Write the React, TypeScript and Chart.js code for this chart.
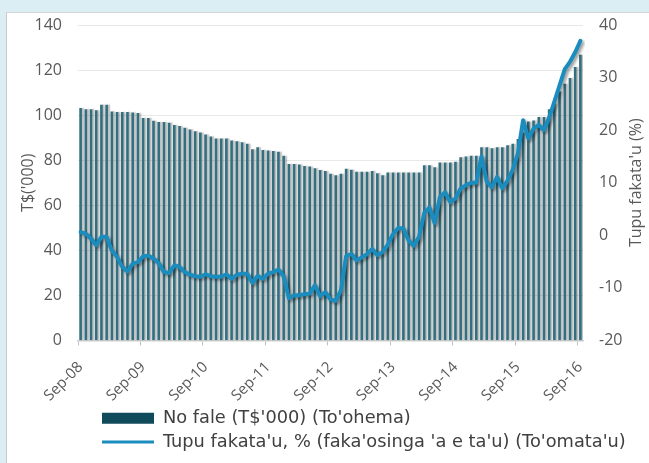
import { useEffect, useRef } from 'react';
import { Chart, registerables } from 'chart.js';

Chart.register(...registerables);

const monthNames = ['Sep', 'Oct', 'Nov', 'Dec', 'Jan', 'Feb', 'Mar', 'Apr', 'May', 'Jun', 'Jul', 'Aug'];
const xTickLabels = ['Sep-08', 'Sep-09', 'Sep-10', 'Sep-11', 'Sep-12', 'Sep-13', 'Sep-14', 'Sep-15', 'Sep-16'];

const categories: string[] = [];
for (let i = 0; i < 97; i++) {
  const yr = 8 + Math.floor((i + 8) / 12);
  categories.push(monthNames[i % 12] + '-' + String(yr).padStart(2, '0'));
}

// No fale (T$'000) – left axis
const loansValues = [
  103, 102.5, 102.5, 102, 104.5, 104.5, 101.5, 101.2, 101.2, 101.2, 101, 100.8,
  98.6, 98.6, 97.3, 96.8, 96.8, 96.5, 95.5, 95, 94.2, 93.5, 92.7, 92.1,
  91.3, 90.4, 89.5, 89.5, 89.5, 88.6, 88.3, 87.8, 87.1, 84.7, 85.6, 84.4,
  84.1, 83.9, 83.6, 81.8, 78.2, 78.2, 77.9, 77.3, 77.0, 76.3, 75.5, 75.0,
  73.8, 73.2, 73.8, 76, 75.6, 74.7, 74.7, 74.7, 75.1, 74.1, 73.2, 74.4,
  74.4, 74.4, 74.4, 74.4, 74.4, 74.4, 77.6, 77.6, 76.7, 78.8, 78.8, 78.8,
  79.1, 81.2, 81.5, 81.8, 81.8, 85.6, 85.6, 85.2, 85.6, 85.6, 86.5, 87.1,
  89.2, 92.1, 97, 97.5, 99, 99, 102.5, 104.9, 110.3, 113.8, 116.3, 121.2,
  126.7,
];

// Tupu fakata'u, % – right axis
const growthValues = [
  0.6, 0.3, -0.6, -1.9, -0.3, -0.3, -2.9, -4.1, -6.0, -6.9, -5.4, -5.1,
  -4.0, -3.9, -4.4, -5.3, -7.0, -7.2, -5.7, -6.0, -7.0, -7.5, -7.8, -7.9,
  -7.4, -7.8, -7.9, -7.9, -7.4, -8.3, -7.5, -7.3, -7.3, -9.1, -7.7, -8.3,
  -7.3, -7.0, -6.5, -7.8, -12.0, -11.4, -11.4, -11.2, -11.1, -9.5, -11.6, -10.8,
  -12.2, -12.5, -10.5, -4.0, -3.5, -4.8, -4.2, -3.6, -2.6, -3.8, -3.2, -1.8,
  0.2, 1.4, 1.3, -1.0, -2.0, -0.3, 4.2, 5.3, 2.3, 7.2, 8.2, 6.3,
  7.0, 8.9, 9.5, 10.0, 10.0, 15.0, 10.2, 9.1, 11.1, 8.9, 10.4, 12.5,
  15.6, 21.9, 18.4, 20.3, 21.0, 20.0, 22.4, 25.4, 28.5, 31.6, 33.0, 34.8,
  37.0,
];

const barLabel = "No fale (T$'000) (To'ohema)";
const lineLabel = "Tupu fakata'u, % (faka'osinga 'a e ta'u) (To'omata'u)";
const leftTitle = "T$('000)";
const rightTitle = "Tupu fakata'u (%)";

const AXIS_FONT = "'Open Sans', sans-serif";
const TEXT = '#595959';

const shadowPlugin = {
  id: 'shadowPlugin',
  beforeDatasetDraw(chart: any, args: any) {
    const ctx = chart.ctx;
    ctx.save();
    if (args.index === 0) {
      ctx.shadowColor = 'rgba(0,0,0,0.28)';
      ctx.shadowBlur = 1.5;
      ctx.shadowOffsetX = 2;
      ctx.shadowOffsetY = 0;
    } else {
      ctx.shadowColor = 'rgba(0,0,0,0.4)';
      ctx.shadowBlur = 3;
      ctx.shadowOffsetX = 2;
      ctx.shadowOffsetY = 2;
    }
  },
  afterDatasetDraw(chart: any) {
    chart.ctx.restore();
  },
};

const legendShift = {
  id: 'legendShift',
  afterLayout(chart: any) {
    const lg = chart.legend;
    if (lg) {
      lg.left = 89;
    }
  },
};

const rightTitlePlugin = {
  id: 'rightTitlePlugin',
  afterDraw(chart: any) {
    const ctx = chart.ctx;
    const area = chart.chartArea;
    ctx.save();
    ctx.translate(629, (area.top + area.bottom) / 2);
    ctx.rotate(-Math.PI / 2);
    ctx.font = `16px ${AXIS_FONT}`;
    ctx.fillStyle = TEXT;
    ctx.textAlign = 'center';
    ctx.textBaseline = 'middle';
    ctx.fillText(rightTitle, 0, 0);
    ctx.restore();
  },
};

const fitY = (w: number) => (s: any) => {
  s.width = w;
  s.paddingTop = 0;
  s.paddingBottom = 0;
};

export default function App() {
  const ref = useRef<HTMLCanvasElement | null>(null);

  useEffect(() => {
    if (!ref.current) return;
    const chart = new Chart(ref.current, {
      type: 'bar',
      data: {
        labels: categories,
        datasets: [
          {
            type: 'bar',
            label: barLabel,
            data: loansValues,
            yAxisID: 'y',
            order: 1,
            backgroundColor: '#346f80',
            borderWidth: 0,
            barThickness: 2,
          },
          {
            type: 'line',
            label: lineLabel,
            data: growthValues,
            yAxisID: 'y1',
            order: 0,
            borderColor: '#1a8cbe',
            backgroundColor: '#1a8cbe',
            borderWidth: 4,
            pointRadius: 0,
            tension: 0,
            borderJoinStyle: 'round',
            borderCapStyle: 'round',
          },
        ],
      } as any,
      options: {
        responsive: false,
        animation: false,
        layout: { padding: { top: 12, bottom: 2, left: 0, right: 0 } },
        plugins: {
          tooltip: { enabled: false },
          legend: {
            display: true,
            position: 'bottom',
            align: 'start',
            labels: {
              usePointStyle: true,
              pointStyleWidth: 52,
              boxHeight: 11,
              padding: 6,
              color: '#404040',
              font: { family: "'DejaVu Sans', sans-serif", size: 17.8 },
              sort: (a: any, b: any) => a.datasetIndex - b.datasetIndex,
              generateLabels: (c: any) => {
                const items = (Chart.defaults.plugins.legend.labels as any).generateLabels(c);
                items.forEach((it: any) => {
                  if (it.datasetIndex === 0) {
                    it.fillStyle = '#0f4b5b';
                    it.strokeStyle = '#0f4b5b';
                    it.lineWidth = 0;
                    it.pointStyle = 'rect';
                  } else {
                    it.fillStyle = '#1a8cbe';
                    it.strokeStyle = '#1a8cbe';
                    it.lineWidth = 3;
                    it.pointStyle = 'line';
                  }
                });
                return items;
              },
            },
          },
        },
        scales: {
          x: {
            type: 'category',
            offset: true,
            afterFit: (s: any) => {
              s.height = 63;
            },
            grid: {
              display: true,
              offset: true,
              drawOnChartArea: false,
              drawTicks: true,
              tickLength: 5,
              color: (c: any) => (c.index % 12 === 0 ? '#bfbfbf' : 'rgba(0,0,0,0)'),
            },
            border: { display: true, color: '#d0d0d0', width: 1.5 },
            ticks: {
              autoSkip: false,
              maxRotation: 45,
              minRotation: 45,
              padding: 13,
              color: TEXT,
              font: { family: AXIS_FONT, size: 15 },
              callback: (_v: any, i: number) => (i % 12 === 0 ? xTickLabels[i / 12] : ''),
            },
          },
          y: {
            position: 'left',
            min: 0,
            max: 140,
            afterFit: fitY(71),
            ticks: {
              stepSize: 20,
              padding: 16,
              color: TEXT,
              font: { family: AXIS_FONT, size: 16 },
            },
            grid: { color: '#e8e8e8', lineWidth: 1, drawTicks: false },
            border: { display: false },
            title: {
              display: true,
              text: leftTitle,
              color: TEXT,
              font: { family: AXIS_FONT, size: 16 },
              padding: { top: 12, bottom: 0 },
            },
          },
          y1: {
            position: 'right',
            min: -20,
            max: 40,
            afterFit: fitY(66),
            ticks: {
              stepSize: 10,
              padding: 16,
              color: TEXT,
              font: { family: AXIS_FONT, size: 16 },
            },
            grid: { display: false, drawOnChartArea: false, drawTicks: false },
            border: { display: false },
          },
        },
      } as any,
      plugins: [shadowPlugin, legendShift, rightTitlePlugin],
    });
    return () => chart.destroy();
  }, []);

  return (
    <div style={{ position: 'fixed', left: 0, top: 0, width: 649, height: 463, background: '#daeef3', overflow: 'hidden' }}>
      <div
        style={{
          position: 'absolute',
          left: 6,
          top: 12,
          width: 643,
          height: 451,
          background: '#ffffff',
          borderLeft: '1px solid #c9c9c9',
          borderTop: '1px solid #d6d6d6',
          boxSizing: 'border-box',
        }}
      >
        <canvas ref={ref} width={642} height={450} style={{ display: 'block', width: 642, height: 450 }} />
      </div>
    </div>
  );
}
